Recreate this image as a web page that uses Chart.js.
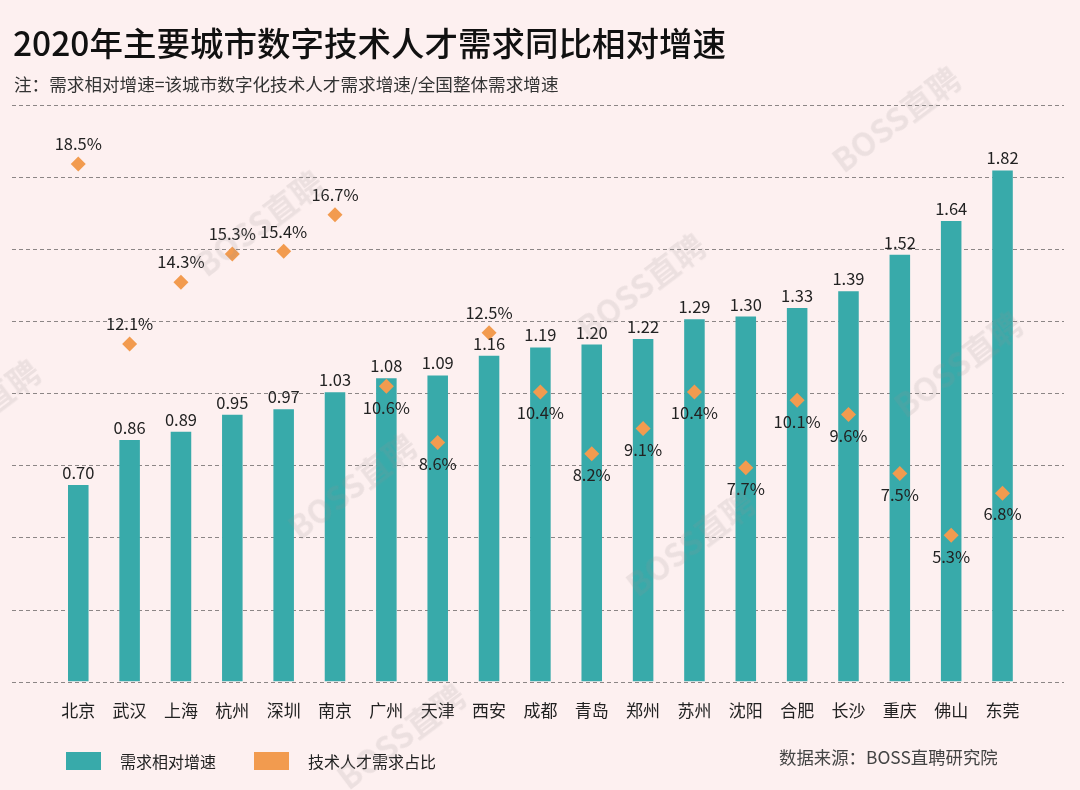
<!DOCTYPE html>
<html lang="zh-CN">
<head>
<meta charset="utf-8">
<title>2020年主要城市数字技术人才需求同比相对增速</title>
<script src="https://cdn.jsdelivr.net/npm/chart.js@4/dist/chart.umd.min.js"></script>
<style>
  html, body { margin: 0; padding: 0; }
  body { width: 1080px; height: 790px; background: #FDF0F0; position: relative; overflow: hidden;
         font-family: "Noto Sans CJK SC", "Noto Sans", sans-serif; color: #1a1a1a; }
  #wrap { position: absolute; left: 0; top: 0; width: 1080px; height: 790px; }
  .abs { position: absolute; white-space: nowrap; }
  #title { left: 13px; top: 19px; font-size: 33.5px; font-weight: 500; line-height: 46px; color: #111; }
  #sub { left: 14px; top: 72px; font-size: 17.6px; line-height: 24px; color: #333; }
  .lbox { position: absolute; width: 35px; height: 18px; top: 752px; }
  .ltxt { top: 749px; font-size: 16px; line-height: 24px; color: #222; }
  #src { left: 779px; top: 745px; font-size: 17.4px; line-height: 24px; color: #444; }
  .wm { position: absolute; font-size: 32px; font-weight: 700; color: rgba(150,140,140,0.16);
        transform: translate(-50%, -50%) rotate(-37deg); white-space: nowrap; font-family: "Noto Sans CJK SC", sans-serif; }
</style>
</head>
<body>
<div id="wrap"><canvas id="c" width="1080" height="790"></canvas></div>
<div class="abs" id="title">2020年主要城市数字技术人才需求同比相对增速</div>
<div class="abs" id="sub">注：需求相对增速=该城市数字化技术人才需求增速/全国整体需求增速</div>
<div class="lbox" style="left:66px;background:#38AAAA"></div>
<div class="abs ltxt" style="left:120px">需求相对增速</div>
<div class="lbox" style="left:254px;background:#F29B4F"></div>
<div class="abs ltxt" style="left:308px">技术人才需求占比</div>
<div class="abs" id="src">数据来源：BOSS直聘研究院</div>
<div class="wm" style="left:895px;top:118px">BOSS直聘</div>
<div class="wm" style="left:258px;top:222px">BOSS直聘</div>
<div class="wm" style="left:640px;top:285px">BOSS直聘</div>
<div class="wm" style="left:957px;top:363px">BOSS直聘</div>
<div class="wm" style="left:-25px;top:411px">BOSS直聘</div>
<div class="wm" style="left:351px;top:485px">BOSS直聘</div>
<div class="wm" style="left:689px;top:542px">BOSS直聘</div>
<div class="wm" style="left:400px;top:735px">BOSS直聘</div>
<script>
// ---- data ----
const cities = ["北京","武汉","上海","杭州","深圳","南京","广州","天津","西安","成都","青岛","郑州","苏州","沈阳","合肥","长沙","重庆","佛山","东莞"];
const relativeGrowth = [0.70,0.86,0.89,0.95,0.97,1.03,1.08,1.09,1.16,1.19,1.20,1.22,1.29,1.30,1.33,1.39,1.52,1.64,1.82];
const talentShare = [18.5,12.1,14.3,15.3,15.4,16.7,10.6,8.6,12.5,10.4,8.2,9.1,10.4,7.7,10.1,9.6,7.5,5.3,6.8];
const seriesNames = ["需求相对增速","技术人才需求占比"];

// ---- style / layout config ----
const TEAL = "#38AAAA", ORANGE = "#F29B4F";
const shareLabelAbove = ["北京","武汉","上海","杭州","深圳","南京","西安"];
const Y_MAX = 2.053, Y2_MIN = 0.1, Y2_MAX = 20.6, GRID_N = 8;
const FONT = '"Noto Sans CJK SC", "Noto Sans", sans-serif';

const gridPlugin = {
  id: "dashGrid",
  beforeDatasetsDraw(chart) {
    const ctx = chart.ctx, y = chart.scales.y;
    ctx.save();
    ctx.strokeStyle = "#8c8686";
    ctx.lineWidth = 1;
    ctx.setLineDash([4, 3]);
    for (let i = 0; i <= GRID_N; i++) {
      const py = Math.round(y.getPixelForValue(Y_MAX * i / GRID_N)) + 0.5;
      ctx.beginPath();
      ctx.moveTo(12, py);
      ctx.lineTo(1064, py);
      ctx.stroke();
    }
    ctx.restore();
  }
};

const labelPlugin = {
  id: "valueLabels",
  afterDatasetsDraw(chart) {
    const ctx = chart.ctx;
    ctx.save();
    ctx.font = "16.5px " + FONT;
    ctx.fillStyle = "#222";
    ctx.textAlign = "center";
    const barMeta = chart.getDatasetMeta(1);
    barMeta.data.forEach((el, i) => {
      ctx.textBaseline = "bottom";
      ctx.fillText(relativeGrowth[i].toFixed(2), el.x, el.y - 4);
    });
    const ptMeta = chart.getDatasetMeta(0);
    ptMeta.data.forEach((el, i) => {
      ctx.textBaseline = "middle";
      const above = shareLabelAbove.includes(cities[i]);
      ctx.fillText(talentShare[i].toFixed(1) + "%", el.x, above ? el.y - 20 : el.y + 21);
    });
    ctx.restore();
  }
};

new Chart(document.getElementById("c"), {
  data: {
    labels: cities,
    datasets: [
      {
        type: "line",
        label: seriesNames[1],
        data: talentShare,
        yAxisID: "y2",
        showLine: false,
        pointStyle: "rectRot",
        pointRadius: 7.5,
        pointHoverRadius: 7.5,
        pointBackgroundColor: ORANGE,
        pointBorderColor: ORANGE,
        pointBorderWidth: 0,
        order: 0,
        clip: false
      },
      {
        type: "bar",
        label: seriesNames[0],
        data: relativeGrowth,
        yAxisID: "y",
        backgroundColor: TEAL,
        borderWidth: 0,
        barPercentage: 0.4,
        categoryPercentage: 1.0,
        order: 1
      }
    ]
  },
  options: {
    responsive: false,
    animation: false,
    devicePixelRatio: 1,
    layout: { padding: { left: 52.6, right: 51.8, top: 105, bottom: 58 } },
    plugins: { legend: { display: false }, tooltip: { enabled: false }, title: { display: false } },
    scales: {
      x: {
        type: "category",
        grid: { display: false },
        border: { display: false },
        ticks: { font: { family: FONT, size: 17 }, color: "#222", padding: 11, maxRotation: 0, autoSkip: false }
      },
      y: { type: "linear", min: 0, max: Y_MAX, display: false },
      y2: { type: "linear", min: Y2_MIN, max: Y2_MAX, display: false }
    }
  },
  plugins: [gridPlugin, labelPlugin]
});
</script>
</body>
</html>
